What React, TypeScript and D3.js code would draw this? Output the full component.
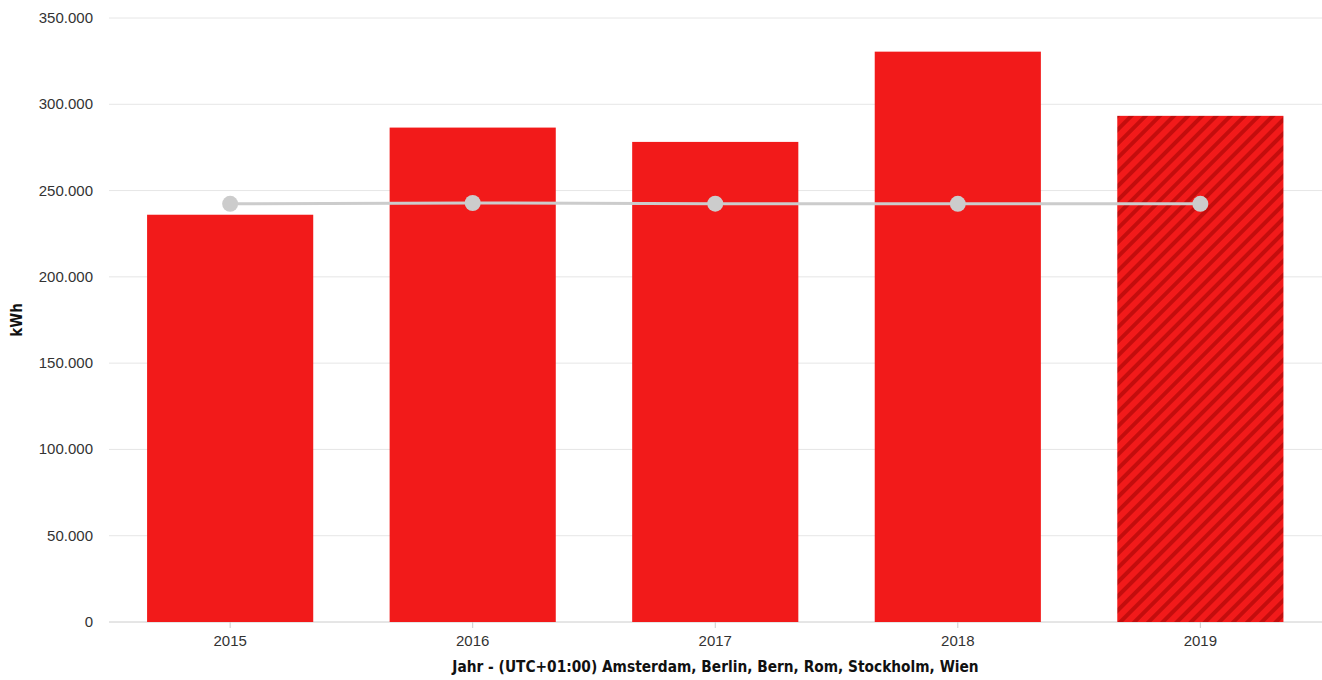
import React from "react";
import * as d3 from "d3";

const years = ["2015", "2016", "2017", "2018", "2019"];
const consumption = [236000, 286500, 278200, 330500, 293300];
const average = [242300, 242800, 242400, 242300, 242300];
const forecast = [false, false, false, false, true];
const yTicks = [0, 50000, 100000, 150000, 200000, 250000, 300000, 350000];
const yLabel = "kWh";
const xLabel = "Jahr - (UTC+01:00) Amsterdam, Berlin, Bern, Rom, Stockholm, Wien";

const W = 1322;
const H = 680;
const margin = { left: 109, right: 0.5, top: 18, bottom: 58 };

export default function App() {
  const x = d3
    .scaleBand<string>()
    .domain(years)
    .range([margin.left, W - margin.right])
    .paddingInner(0.315)
    .paddingOuter(0.157);
  const y = d3.scaleLinear().domain([0, 350000]).range([H - margin.bottom, margin.top]);
  const fmt = (v: number) => d3.format(",")(v).replace(/,/g, ".");
  const line = d3
    .line<number>()
    .x((_, i) => (x(years[i]) as number) + x.bandwidth() / 2)
    .y((d) => y(d));
  const font = "'Liberation Sans', Arial, sans-serif";
  const titleFont = "'DejaVu Sans Condensed', 'Liberation Sans', sans-serif";
  return (
    <svg width={W} height={H} style={{ position: "absolute", left: 0, top: 0 }}>
      <defs>
        <pattern id="hatch" patternUnits="userSpaceOnUse" width="10" height="10" patternTransform="rotate(45)">
          <rect width="10" height="10" fill="#f21a1a" />
          <rect x="0" y="0" width="4" height="10" fill="#c40d0d" />
        </pattern>
      </defs>
      <rect width={W} height={H} fill="#fff" />
      {yTicks.map((t) => (
        <g key={t}>
          <line x1={margin.left} x2={W} y1={y(t)} y2={y(t)} stroke={t === 0 ? "#ccc" : "#e6e6e6"} strokeWidth={1} />
          <text x={93} y={y(t) + 5} textAnchor="end" fontSize={15} fill="#333" fontFamily={font}>
            {fmt(t)}
          </text>
        </g>
      ))}
      {years.map((yr, i) => (
        <rect
          key={yr}
          x={x(yr)}
          y={y(consumption[i])}
          width={x.bandwidth()}
          height={y(0) - y(consumption[i])}
          fill={forecast[i] ? "url(#hatch)" : "#f21a1a"}
        />
      ))}
      {years.map((yr) => {
        const cx = (x(yr) as number) + x.bandwidth() / 2;
        return (
          <g key={yr}>
            <line x1={cx} x2={cx} y1={y(0)} y2={y(0) + 6} stroke="#ccc" />
            <text x={cx} y={y(0) + 24} textAnchor="middle" fontSize={15} fill="#333" fontFamily={font}>
              {yr}
            </text>
          </g>
        );
      })}
      <path d={line(average) || ""} fill="none" stroke="#cccccc" strokeWidth={3} />
      {average.map((v, i) => (
        <circle
          key={i}
          cx={(x(years[i]) as number) + x.bandwidth() / 2}
          cy={y(v)}
          r={8}
          fill="#cccccc"
        />
      ))}
      <text
        transform={`translate(22,${(margin.top + H - margin.bottom) / 2}) rotate(-90)`}
        textAnchor="middle"
        fontSize={15}
        fontWeight="bold"
        fill="#111"
        fontFamily={titleFont}
      >
        {yLabel}
      </text>
      <text
        x={(margin.left + W) / 2}
        y={672}
        textAnchor="middle"
        fontSize={15.3}
        fontWeight="bold"
        fill="#111"
        fontFamily={titleFont}
      >
        {xLabel}
      </text>
    </svg>
  );
}
